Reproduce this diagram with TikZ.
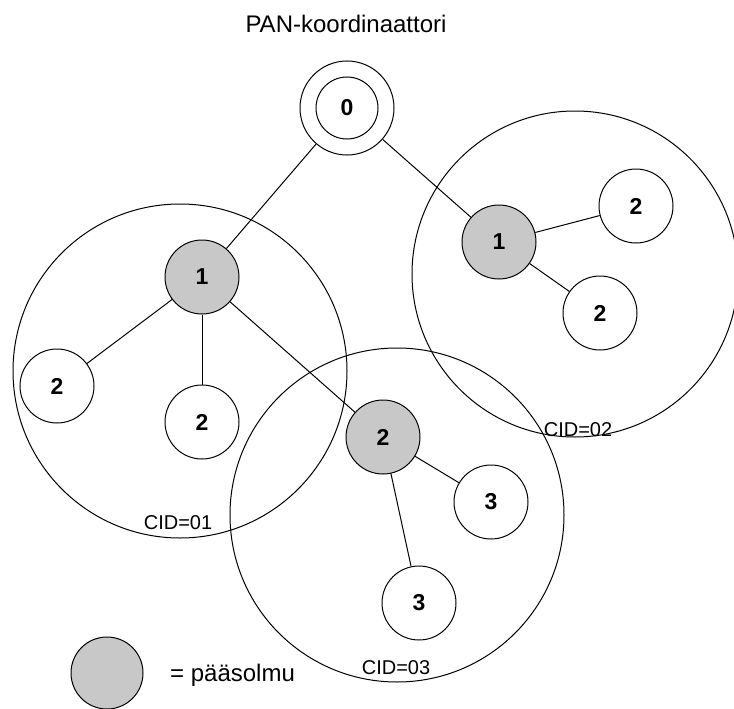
\documentclass[tikz,border=0pt]{standalone}
\usepackage{fontspec}
\setmainfont{Liberation Sans}
\definecolor{headgray}{RGB}{200,200,200}
\begin{document}
\begin{tikzpicture}[x=1pt,y=-1pt,
  nd/.style={circle, draw, line width=1pt, minimum size=74pt, inner sep=0pt,
    fill=white, font=\bfseries\fontsize{23}{23}\selectfont},
  head/.style={nd, fill=headgray},
  cluster/.style={draw, line width=1pt},
  cid/.style={inner sep=0pt, font=\fontsize{20}{20}\selectfont},
  link/.style={line width=1pt}]
\useasboundingbox (0,0) rectangle (734,709);

% cluster boundaries
\draw[cluster] (180,371) circle (167pt);
\draw[cluster] (575,274) circle (163pt);
\draw[cluster] (397,515) circle (167pt);
\node[cid] (c1) at (178,523) {CID=01};
\node[cid] (c2) at (578,430) {CID=02};
\node[cid] (c3) at (396,668) {CID=03};

% coordinator
\node[nd, minimum size=94pt] (n0) at (347,108) {};
\node[nd, minimum size=62pt] (n0in) at (347,108) {0};
\node[inner sep=0pt, font=\fontsize{24}{24}\selectfont] (title) at (346,24) {PAN-koordinaattori};

% nodes
\node[head] (a1) at (202,277) {1};
\node[nd] (a2) at (57,386) {2};
\node[nd] (a3) at (202,422) {2};
\node[head] (b1) at (499,242) {1};
\node[nd] (b2) at (636,206) {2};
\node[nd] (b3) at (600,313) {2};
\node[head] (d1) at (383,437) {2};
\node[nd] (d2) at (491,502) {3};
\node[nd] (d3) at (419,603) {3};

% links
\draw[link] (n0) -- (a1);
\draw[link] (n0) -- (b1);
\draw[link] (a1) -- (a2);
\draw[link] (a1) -- (a3);
\draw[link] (a1) -- (d1);
\draw[link] (b1) -- (b2);
\draw[link] (b1) -- (b3);
\draw[link] (d1) -- (d2);
\draw[link] (d1) -- (d3);

% legend
\node[head, minimum size=72pt] (key) at (107,673) {};
\node[anchor=west, inner sep=0pt, font=\fontsize{24}{24}\selectfont] (keytext) at (170,675) {= pääsolmu};
\end{tikzpicture}
\end{document}
